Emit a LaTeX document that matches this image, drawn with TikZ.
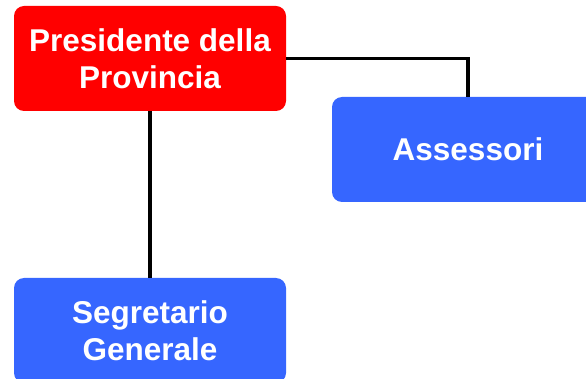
\documentclass[tikz,border=0pt]{standalone}
\usepackage{fontspec}
\setmainfont{Liberation Sans}
\usepackage{tikz}

\begin{document}
\begin{tikzpicture}[x=1pt,y=-1pt,
    box/.style={rounded corners=10pt,minimum width=272pt,minimum height=105pt,
      inner sep=0pt,align=center,text=white,font=\bfseries\fontsize{31.5}{37.5}\selectfont},
    link/.style={line width=3.6pt,black}]
      \useasboundingbox (0,0) rectangle (586,379);
      \clip (0,0) rectangle (586,379);
      \node[box,fill={rgb,255:red,255;green,0;blue,0}] (1) at (150,58.5) {Presidente della\\Provincia};
      \node[box,fill={rgb,255:red,54;green,102;blue,255}] (2) at (468,149.5) {Assessori};
      \node[box,fill={rgb,255:red,54;green,102;blue,255}] (3) at (150,330.5) {Segretario\\Generale};
      %% Connectors
      \draw[link] (1.east) -| (2.north);
      \draw[link] (1.south) -- (3.north);
    \end{tikzpicture}
\end{document}
